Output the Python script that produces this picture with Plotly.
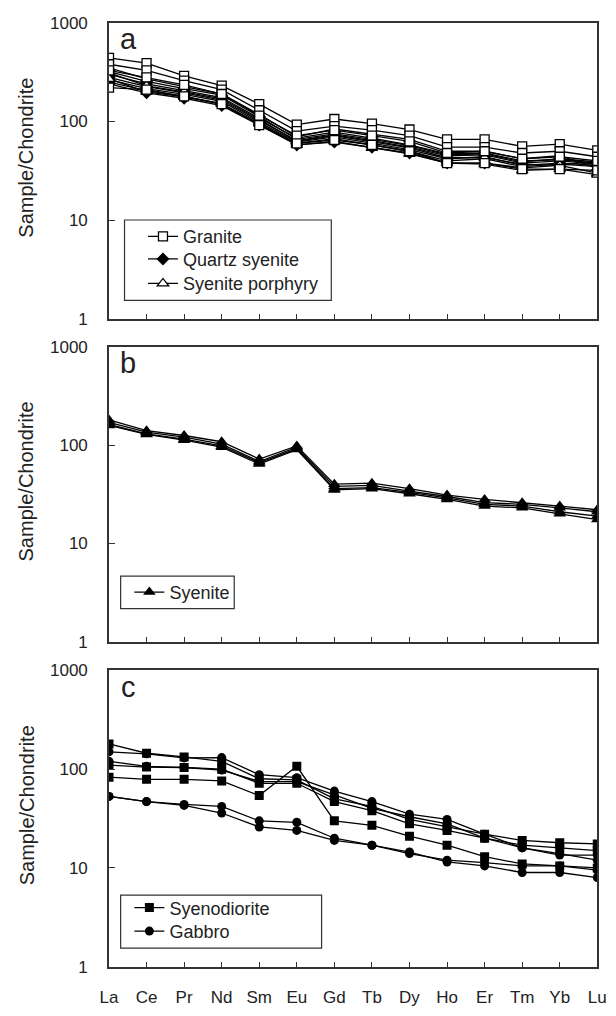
import plotly.graph_objects as go

ree = ["La", "Ce", "Pr", "Nd", "Sm", "Eu", "Gd", "Tb", "Dy", "Ho", "Er", "Tm", "Yb", "Lu"]

# Panel a
granite = [
    [440, 390, 290, 231, 150, 93, 106, 95, 83, 66, 66, 56, 59, 51],
    [380, 330, 260, 210, 130, 80, 90, 82, 72, 55, 55, 48, 50, 44],
    [330, 280, 235, 190, 115, 72, 82, 72, 63, 48, 50, 42, 44, 40],
    [220, 210, 180, 150, 92, 60, 65, 58, 50, 38, 38, 33, 33, 32],
]
quartz_syenite = [
    [320, 255, 215, 185, 112, 66, 75, 66, 57, 46, 47, 39, 42, 39],
    [300, 240, 205, 175, 108, 68, 78, 68, 58, 47, 48, 40, 41, 38],
    [280, 225, 195, 165, 102, 64, 73, 64, 55, 45, 46, 38, 40, 37],
    [265, 215, 188, 160, 98, 62, 70, 60, 52, 42, 44, 36, 38, 36],
    [250, 205, 180, 152, 95, 60, 67, 58, 50, 40, 42, 35, 37, 35],
    [240, 195, 172, 145, 92, 58, 62, 55, 48, 38, 38, 34, 36, 40],
]
syenite_porphyry = [
    [350, 270, 225, 190, 118, 70, 84, 74, 66, 50, 50, 42, 45, 34],
    [310, 230, 200, 170, 105, 63, 72, 62, 54, 43, 43, 37, 36, 30],
    [270, 200, 178, 150, 95, 58, 63, 54, 47, 38, 37, 32, 33, 29],
]

# Panel b
syenite = [
    [180, 140, 125, 108, 72, 98, 40, 41, 36, 31, 28, 26, 24, 22],
    [170, 135, 120, 102, 68, 95, 38, 39, 34, 30, 26, 25, 23, 21],
    [162, 130, 115, 98, 66, 92, 36, 37, 33, 29, 25, 24, 21, 19],
    [158, 128, 112, 95, 64, 90, 35, 36, 32, 28, 24, 23, 20, 17.5],
]

# Panel c
syenodiorite = [
    [180, 145, 133, 120, 80, 78, 50, 42, 31, 26, 22, 19, 18, 17.5],
    [110, 105, 104, 100, 72, 72, 47, 38, 28, 24, 20, 17, 16, 15],
    [83, 79, 79, 76, 54, 107, 30, 27, 21, 17, 13, 11, 10.5, 10],
]
gabbro = [
    [150, 143, 130, 131, 88, 82, 60, 47, 35, 31, 22, 16, 14, 12],
    [120, 107, 104, 98, 75, 75, 55, 40, 33, 28, 20, 16, 13.5, 13.5],
    [53, 47, 44, 42, 30, 29, 20, 17, 14, 12, 11.3, 10.5, 10.5, 9.5],
    [53, 47, 43, 36, 26, 24, 19, 17, 14.5, 11.5, 10.5, 9, 9, 8],
]

W, H = 616, 1016
FONT = "Liberation Sans, Arial, sans-serif"
XL, XR = 103 / W, 606 / W
panels = [(14, 316), (344, 645), (674, 976)]  # top, bottom px


def ydom(top, bot):
    return [1 - bot / H, 1 - top / H]


fig = go.Figure()

legend_rows = {}


def add_group(data, name, axis_idx, legend, marker, leg_x, leg_y):
    xa = "x" if axis_idx == 1 else f"x{axis_idx}"
    ya = "y" if axis_idx == 1 else f"y{axis_idx}"
    legend_rows[legend] = (leg_x, leg_y)
    for i, vals in enumerate(data):
        fig.add_trace(go.Scatter(
            x=ree, y=vals, mode="lines+markers", name=name,
            xaxis=xa, yaxis=ya, legend=legend,
            showlegend=(i == 0),
            line=dict(color="black", width=1.3),
            marker=marker,
        ))


add_group(quartz_syenite, "Quartz syenite", 1, "legend2",
          dict(symbol="diamond", size=10, color="black"), 138, 255)
add_group(syenite_porphyry, "Syenite porphyry", 1, "legend3",
          dict(symbol="triangle-up", size=10, color="white", line=dict(color="black", width=1.3)), 138, 280)
add_group(granite, "Granite", 1, "legend",
          dict(symbol="square", size=9, color="white", line=dict(color="black", width=1.3)), 138, 232)
add_group(syenite, "Syenite", 2, "legend4",
          dict(symbol="triangle-up", size=11, color="black"), 124, 594.5)
add_group(syenodiorite, "Syenodiorite", 3, "legend5",
          dict(symbol="square", size=9, color="black"), 124, 916)
add_group(gabbro, "Gabbro", 3, "legend6",
          dict(symbol="circle", size=9, color="black"), 124, 940)

axis_common_x = dict(
    type="category", range=[0, 13], showline=True, linecolor="#333", linewidth=1.5,
    mirror=True, ticks="inside", ticklen=5, tickcolor="#333", tickwidth=1.2,
    showgrid=False, zeroline=False,
    tickfont=dict(family=FONT, size=17, color="#222"),
)
axis_common_y = dict(
    type="log", range=[0, 3], showline=True, linecolor="#333", linewidth=1.5,
    mirror=True, ticks="inside", ticklen=6, tickcolor="#333", tickwidth=1.2,
    showgrid=False, zeroline=False, tickvals=[1, 10, 100, 1000],
    ticktext=["1", "10", "100", "1000"], ticklabelstandoff=16,
    tickfont=dict(family=FONT, size=17, color="#222"),
)

layout = dict(
    width=W, height=H, margin=dict(l=0, r=0, t=0, b=0),
    plot_bgcolor="white", paper_bgcolor="white",
    font=dict(family=FONT, color="#222"),
)
for k, (top, bot) in enumerate(panels, start=1):
    xs = "xaxis" if k == 1 else f"xaxis{k}"
    ys = "yaxis" if k == 1 else f"yaxis{k}"
    yname = "y" if k == 1 else f"y{k}"
    xname = "x" if k == 1 else f"x{k}"
    layout[xs] = dict(axis_common_x, domain=[XL, XR], anchor=yname,
                      showticklabels=(k == 3), ticklabelstandoff=14)
    layout[ys] = dict(axis_common_y, domain=ydom(top, bot), anchor=xname)

leg_common = dict(
    bgcolor="rgba(0,0,0,0)", borderwidth=0,
    font=dict(family=FONT, size=18, color="#222"),
    xanchor="left", yanchor="middle", tracegroupgap=0,
)
for lid, (lx, ly) in legend_rows.items():
    layout[lid] = dict(leg_common, x=lx / W, y=1 - ly / H)

boxes = [(119, 215, 332, 297), (115, 578, 232, 611), (115, 903, 322, 957)]
layout["shapes"] = [
    dict(type="rect", xref="paper", yref="paper",
         x0=x0 / W, x1=x1 / W, y0=1 - y1 / H, y1=1 - y0 / H,
         line=dict(color="#333", width=1.2), fillcolor="rgba(0,0,0,0)")
    for (x0, y0, x1, y1) in boxes
]

annotations = []
for letter, (top, bot) in zip(["a", "b", "c"], panels):
    annotations.append(dict(
        text=letter, xref="paper", yref="paper", x=123 / W, y=1 - (top + 17) / H,
        showarrow=False, font=dict(family=FONT, size=29, color="#222"),
        xanchor="center", yanchor="middle"))
    annotations.append(dict(
        text="Sample/Chondrite", xref="paper", yref="paper", x=18 / W,
        y=1 - (top + 137) / H, textangle=-90, showarrow=False,
        font=dict(family=FONT, size=20, color="#222"),
        xanchor="center", yanchor="middle"))
layout["annotations"] = annotations

fig.update_layout(**layout)
fig.write_html(
    "out.html",
    config={"displayModeBar": False},
    post_script="document.body.style.margin='0px';document.body.style.overflow='hidden';",
)
